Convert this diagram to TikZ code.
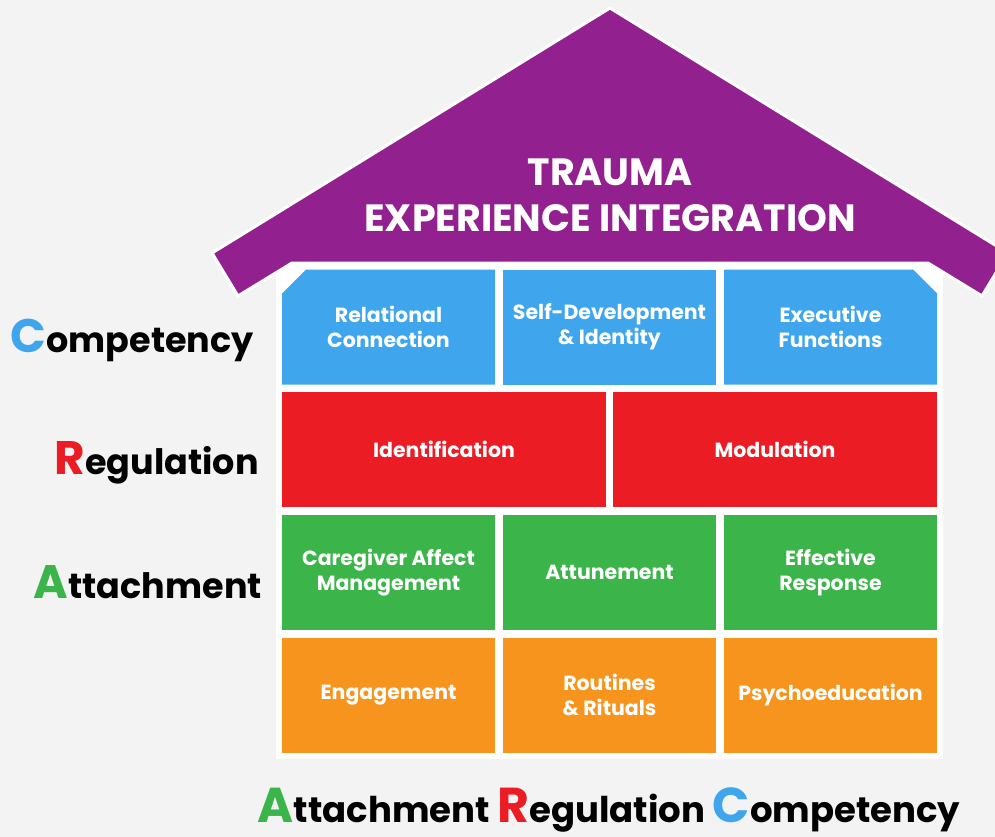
\documentclass[tikz,border=0pt]{standalone}
\usepackage{fontspec}
\setmainfont{Poppins}
\usetikzlibrary{positioning,shapes.misc}
\definecolor{roofpurple}{HTML}{93208F}
\definecolor{compblue}{HTML}{3FA6EE}
\definecolor{regred}{HTML}{EC1C24}
\definecolor{attgreen}{HTML}{3BB54A}
\definecolor{baseorange}{HTML}{F7941E}
\definecolor{bggray}{HTML}{F3F3F3}
\tikzset{
  block/.style={minimum height=115pt, minimum width=213pt, inner sep=0pt,
    text=white, align=center, font=\bfseries\fontsize{20.5}{25}\selectfont},
  wideblock/.style={block, minimum width=324pt},
  cutblock/.style={block, chamfered rectangle, chamfered rectangle xsep=12pt,
    chamfered rectangle ysep=12pt, chamfered rectangle corners=#1},
  arclabel/.style={inner sep=0pt, font=\bfseries\fontsize{35}{35}\selectfont},
  arcfoot/.style={inner sep=0pt, font=\bfseries\fontsize{35.5}{35}\selectfont}
}
\newcommand\bigini[2]{{\color{#1}\fontsize{47}{47}\selectfont #2}}
\newcommand\footini[2]{{\color{#1}\fontsize{49}{49}\selectfont #2}}

\begin{document}
\begin{tikzpicture}[x=1pt, y=-1pt]

  \fill[bggray] (0,0) rectangle (995,837);
  \useasboundingbox (0,0) rectangle (995,837);
  \clip (0,0) rectangle (995,837);

  %% white backing behind the blocks
  \fill[white] (276,263) rectangle (943,759);

  %% roof
  \draw[fill=roofpurple, draw=white, line width=3pt, line join=miter]
  (610,8) -- (1008,253) -- (982,296) -- (928,263)
  -- (292,263) -- (238,296) -- (212,253) -- cycle;
  \node[inner sep=0pt, text=white, align=center,
    font=\bfseries\fontsize{38}{46}\selectfont] (roof) at (610,195)
  {TRAUMA\\EXPERIENCE INTEGRATION};

  %% competency row
  \node[cutblock=north west, fill=compblue] (relcon) at (388.5,327)
  {Relational\\Connection};
  \node[block, fill=compblue] (selfdev) at (609.5,327)
  {Self-Development\\\& Identity};
  \node[cutblock=north east, fill=compblue] (execfun) at (830.5,327)
  {Executive\\Functions};

  %% regulation row
  \node[wideblock, fill=regred] (ident) at (444,449.5) {Identification};
  \node[wideblock, fill=regred] (modul) at (775,449.5) {Modulation};

  %% attachment row
  \node[block, fill=attgreen] (caregiver) at (388.5,572.5)
  {Caregiver Affect\\Management};
  \node[block, fill=attgreen] (attune) at (609.5,572.5) {Attunement};
  \node[block, fill=attgreen] (effresp) at (830.5,572.5)
  {Effective\\Response};

  %% foundation row
  \node[block, fill=baseorange] (engage) at (388.5,695) {Engagement};
  \node[block, fill=baseorange] (routine) at (609.5,695)
  {Routines\\\& Rituals};
  \node[block, fill=baseorange] (psyedu) at (830.5,695) {Psychoeducation};

  %% side labels
  \node[arclabel, anchor=base east] (lblcomp) at (254,352)
  {\bigini{compblue}{C}ompetency};
  \node[arclabel, anchor=base east] (lblreg) at (259,474)
  {\bigini{regred}{R}egulation};
  \node[arclabel, anchor=base east] (lblatt) at (262,598)
  {\bigini{attgreen}{A}ttachment};

  \node[arcfoot, anchor=base] (foot) at (609,822)
  {\footini{attgreen}{A}ttachment \footini{regred}{R}egulation
    \footini{compblue}{C}ompetency};

\end{tikzpicture}
\end{document}
